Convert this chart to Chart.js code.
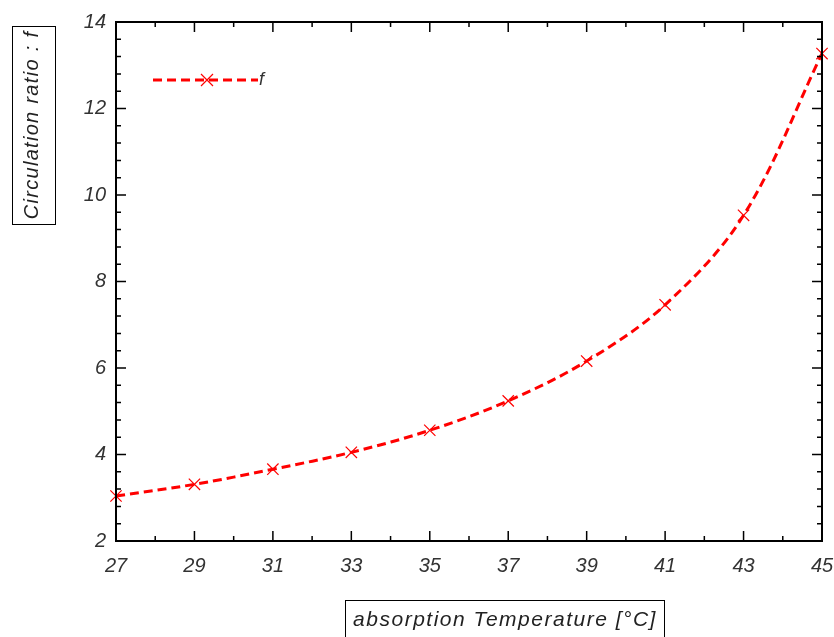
<!DOCTYPE html>
<html><head><meta charset="utf-8">
<script src="https://cdn.jsdelivr.net/npm/chart.js@4"></script>
<style>html,body{margin:0;padding:0;background:#fff}#w{width:834px;height:637px;position:relative}</style>
</head><body><div id="w"><canvas id="c" width="834" height="637"></canvas></div>
<script>
const temps = [27, 29, 31, 33, 35, 37, 39, 41, 43, 45];
const ratioF = [3.04, 3.31, 3.66, 4.05, 4.56, 5.24, 6.16, 7.46, 9.53, 13.27];
const xTicks = [27, 29, 31, 33, 35, 37, 39, 41, 43, 45];
const yTicks = [2, 4, 6, 8, 10, 12, 14];
const seriesName = 'f';
const xTitle = 'absorption Temperature [°C]';
const yTitle = 'Circulation ratio : f';

const FONT = '"Liberation Sans", Arial, sans-serif';

const framePlugin = {
  id: 'frame',
  afterDraw(chart) {
    const ctx = chart.ctx, a = chart.chartArea;
    const xs = chart.scales.x, ys = chart.scales.y;
    ctx.save();
    ctx.strokeStyle = '#000';
    ctx.lineWidth = 2;
    ctx.strokeRect(a.left, a.top, a.right - a.left, a.bottom - a.top);
    ctx.lineWidth = 1.5;
    ctx.beginPath();
    for (let v = 27; v <= 45; v += 1) {
      const p = xs.getPixelForValue(v);
      const L = (v - 27) % 2 === 0 ? 10 : 5;
      ctx.moveTo(p, a.bottom); ctx.lineTo(p, a.bottom - L);
      ctx.moveTo(p, a.top); ctx.lineTo(p, a.top + L);
    }
    for (let i = 0; i <= 30; i++) {
      const v = 2 + i * 0.4;
      const p = ys.getPixelForValue(v);
      const L = i % 5 === 0 ? 10 : 5;
      ctx.moveTo(a.left, p); ctx.lineTo(a.left + L, p);
      ctx.moveTo(a.right, p); ctx.lineTo(a.right - L, p);
    }
    ctx.stroke();
    // legend
    const ly = 80, lx0 = 153, lx1 = 258, mx = 207;
    ctx.strokeStyle = '#ff0000';
    ctx.lineWidth = 3;
    ctx.setLineDash([9, 5]);
    ctx.beginPath(); ctx.moveTo(lx0, ly); ctx.lineTo(lx1, ly); ctx.stroke();
    ctx.setLineDash([]);
    ctx.lineWidth = 1.2;
    ctx.beginPath();
    ctx.moveTo(mx - 6, ly - 6); ctx.lineTo(mx + 6, ly + 6);
    ctx.moveTo(mx - 6, ly + 6); ctx.lineTo(mx + 6, ly - 6);
    ctx.stroke();
    ctx.fillStyle = '#333';
    ctx.font = 'italic 18px ' + FONT;
    ctx.textBaseline = 'middle';
    ctx.textAlign = 'left';
    ctx.fillText(seriesName, 259, ly);
    // x title box
    ctx.strokeStyle = '#000';
    ctx.lineWidth = 1;
    ctx.strokeRect(345.5, 600.5, 319, 40);
    ctx.font = 'italic 21px ' + FONT;
    ctx.textAlign = 'center';
    ctx.fillStyle = '#222';
    if ('letterSpacing' in ctx) ctx.letterSpacing = '1.5px';
    ctx.fillText(xTitle, 505, 620);
    // y title box
    ctx.strokeRect(12.5, 26.5, 43, 198);
    ctx.save();
    ctx.translate(32, 125);
    ctx.rotate(-Math.PI / 2);
    ctx.font = 'italic 20px ' + FONT;
    if ('letterSpacing' in ctx) ctx.letterSpacing = '1.3px';
    ctx.fillText(yTitle, 0, 0);
    ctx.restore();
    ctx.restore();
  }
};

new Chart(document.getElementById('c'), {
  type: 'line',
  data: {
    datasets: [{
      label: seriesName,
      data: temps.map((t, i) => ({ x: t, y: ratioF[i] })),
      borderColor: '#ff0000',
      backgroundColor: '#ff0000',
      borderWidth: 3,
      borderDash: [9, 5],
      tension: 0.35,
      pointStyle: 'crossRot',
      pointRadius: 8,
      pointBorderWidth: 1.2,
      pointBorderColor: '#ff0000',
      fill: false,
      clip: false
    }]
  },
  options: {
    responsive: false,
    animation: false,
    devicePixelRatio: 1,
    layout: { padding: { left: 0, right: 12, top: 22, bottom: 0 } },
    plugins: { legend: { display: false }, tooltip: { enabled: false } },
    scales: {
      x: {
        type: 'linear', min: 27, max: 45,
        afterBuildTicks: s => { s.ticks = xTicks.map(v => ({ value: v })); },
        afterFit: s => { s.height = 96; s.paddingRight = 0; s.paddingLeft = 0; },
        grid: { display: false, drawTicks: false },
        border: { display: false },
        ticks: { color: '#333', font: { family: FONT, size: 20, style: 'italic' }, padding: 13, maxRotation: 0 }
      },
      y: {
        type: 'linear', min: 2, max: 14,
        afterBuildTicks: s => { s.ticks = yTicks.map(v => ({ value: v })); },
        afterFit: s => { s.width = 116; s.paddingTop = 0; s.paddingBottom = 0; },
        grid: { display: false, drawTicks: false },
        border: { display: false },
        ticks: { color: '#333', font: { family: FONT, size: 20, style: 'italic' }, padding: 10 }
      }
    }
  },
  plugins: [framePlugin]
});
</script></body></html>
